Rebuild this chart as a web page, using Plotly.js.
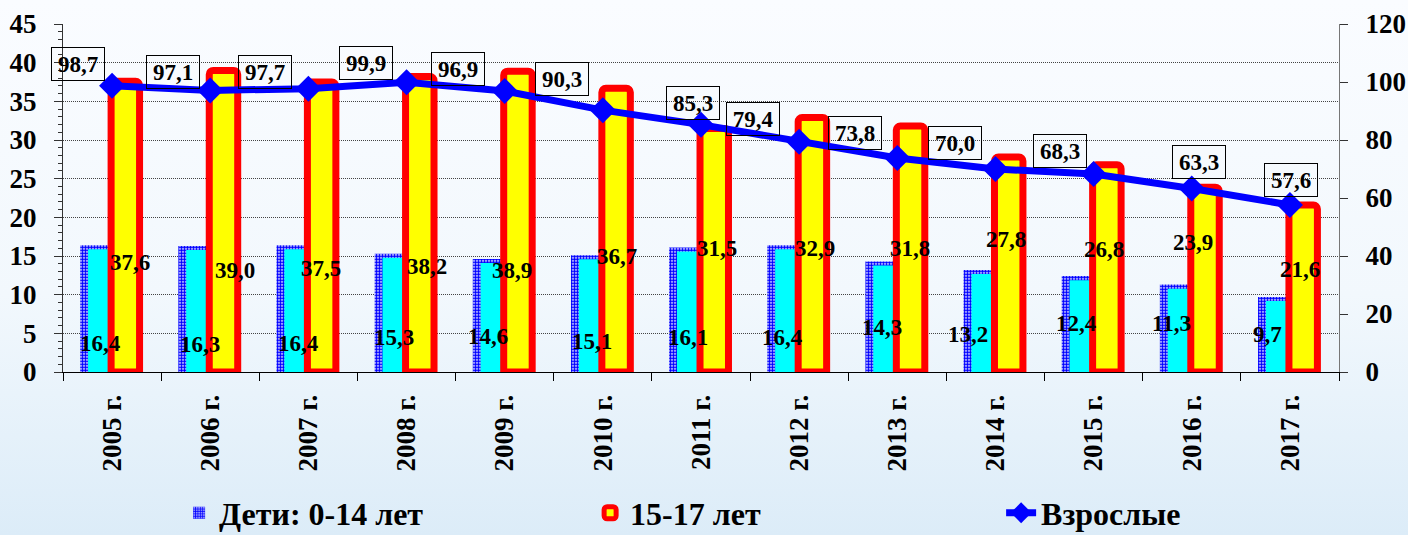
<!DOCTYPE html>
<html>
<head>
<meta charset="utf-8">
<script src="https://cdn.plot.ly/plotly-3.0.1.min.js"></script>
<style>
html,body{margin:0;padding:0;}
#chart{width:1408px;height:535px;background:linear-gradient(to bottom,#fafcff 0%,#f2f8fd 55%,#dcecf8 100%);}
</style>
</head>
<body>
<div id="chart"></div>
<script>
// ---- data ----
var years = ["2005 г.","2006 г.","2007 г.","2008 г.","2009 г.","2010 г.","2011 г.","2012 г.","2013 г.","2014 г.","2015 г.","2016 г.","2017 г."];
var children = [16.4,16.3,16.4,15.3,14.6,15.1,16.1,16.4,14.3,13.2,12.4,11.3,9.7];
var teens = [37.6,39.0,37.5,38.2,38.9,36.7,31.5,32.9,31.8,27.8,26.8,23.9,21.6];
var adults = [98.7,97.1,97.7,99.9,96.9,90.3,85.3,79.4,73.8,70.0,68.3,63.3,57.6];
var seriesNames = ["Дети: 0-14 лет","15-17 лет","Взрослые"];

// ---- label placement (layout only) ----
var childLabelLevel = [3.75,3.6,3.75,4.4,4.6,3.9,4.4,4.4,5.7,4.8,6.3,6.3,4.8];
var childLabelDx = [-12,-10,-10,-13,-17,-11,-13,-17,-15,-27,-17,-20,-22];
var teenLabelLevel = [14.2,13.1,13.4,13.6,13.1,14.9,16.0,16.0,16.0,17.1,15.8,16.7,13.2];
var teenLabelDx = [18,25,13,20,7,14,16,16,13,11,10,1,10];
var adultLabelDx = [-34,-37,-43,-41,-47,-41,-8,-46,-42,-40,-34,7,1];
var adultLabelDy = [22,18,17,19,22,31,22,23,25,26,23,26,25];

function fmt(v){ return v.toFixed(1).replace('.', ','); }

var FONT = "'Liberation Serif', 'Times New Roman', Times, serif";

var traces = [
  { // children: patterned outer
    type:'bar', x:years, y:children, name:seriesNames[0], yaxis:'y',
    offset:-0.325, width:0.31,
    marker:{color:'#ffffff', line:{width:0},
      pattern:{shape:'.', fgcolor:'#0000ff', bgcolor:'#ffffff', size:3, solidity:0.7}},
    hoverinfo:'skip', legendrank:1
  },
  { // children: cyan inner
    type:'bar', x:years, y:children, name:seriesNames[0], yaxis:'y2',
    offset:-0.245, width:0.23, showlegend:false,
    marker:{color:'#00ffff', line:{width:0}}, hoverinfo:'skip'
  },
  { // teens
    type:'bar', x:years, y:teens, name:seriesNames[1], yaxis:'y3',
    offset:-0.01, width:0.29,
    marker:{color:'#ffff00', line:{color:'#ff0000', width:7}, cornerradius:4},
    hoverinfo:'skip', legendrank:2
  },
  { // adults
    type:'scatter', mode:'lines+markers', x:years, y:adults, name:seriesNames[2], yaxis:'y4',
    line:{color:'#0000ff', width:7},
    marker:{symbol:'diamond', size:20, color:'#0000ff'},
    hoverinfo:'skip', legendrank:3
  }
];

var labelFont = {family:FONT, size:23, color:'#000', weight:700};
var annotations = [];
years.forEach(function(yr,i){
  annotations.push({x:yr, y:childLabelLevel[i], xref:'x', yref:'y', xshift:childLabelDx[i],
    text:fmt(children[i]), showarrow:false, font:labelFont});
  annotations.push({x:yr, y:teenLabelLevel[i], xref:'x', yref:'y', xshift:teenLabelDx[i],
    text:fmt(teens[i]), showarrow:false, font:labelFont});
  annotations.push({x:yr, y:adults[i], xref:'x', yref:'y4', xshift:adultLabelDx[i], yshift:adultLabelDy[i],
    text:fmt(adults[i]), showarrow:false, bordercolor:'#000', borderwidth:1, borderpad:2,
    width:48, height:28, font:labelFont});
});

var tickFont = {family:FONT, size:27, color:'#000', weight:700};

var layout = {
  width:1408, height:535,
  font:{family:FONT},
  paper_bgcolor:'rgba(0,0,0,0)', plot_bgcolor:'rgba(0,0,0,0)',
  margin:{l:63, r:69, t:24, b:163, autoexpand:false},
  barmode:'overlay',
  showlegend:true,
  legend:{orientation:'h', x:0.091, y:-0.405, xanchor:'left', yanchor:'middle',
    font:{family:FONT, size:32, color:'#000', weight:700},
    entrywidth:366, entrywidthmode:'pixels', bgcolor:'rgba(0,0,0,0)', traceorder:'normal'},
  xaxis:{type:'category', range:[-0.5,12.5], tickson:'boundaries', ticks:'outside', ticklen:8, tickcolor:'#000',
    showline:true, linecolor:'#000', linewidth:1, tickangle:-90, tickfont:tickFont, ticklabelstandoff:11,
    showgrid:false, zeroline:false, fixedrange:true, automargin:false},
  yaxis:{range:[0,45], dtick:5, ticks:'outside', ticklen:8, tickcolor:'#333',
    minor:{dtick:1, ticks:'outside', ticklen:4, tickcolor:'#333', showgrid:false},
    showline:true, linecolor:'#333', linewidth:1, ticklabelstandoff:12,
    showgrid:true, gridcolor:'#444', gridwidth:1, griddash:'1px,1px',
    zeroline:false, tickfont:tickFont, fixedrange:true, automargin:false},
  yaxis2:{overlaying:'y', range:[0.52,45.52], visible:false, fixedrange:true},
  yaxis3:{overlaying:'y', range:[0,45], visible:false, fixedrange:true},
  yaxis4:{overlaying:'y', side:'right', range:[0,120], dtick:20, ticks:'outside', ticklen:8,
    tickcolor:'#333', showline:true, linecolor:'#777', linewidth:1, showgrid:false, ticklabelstandoff:12,
    zeroline:false, tickfont:tickFont, fixedrange:true, automargin:false},
  annotations:annotations
};

Plotly.newPlot('chart', traces, layout, {staticPlot:true, displayModeBar:false});
</script>
</body>
</html>
